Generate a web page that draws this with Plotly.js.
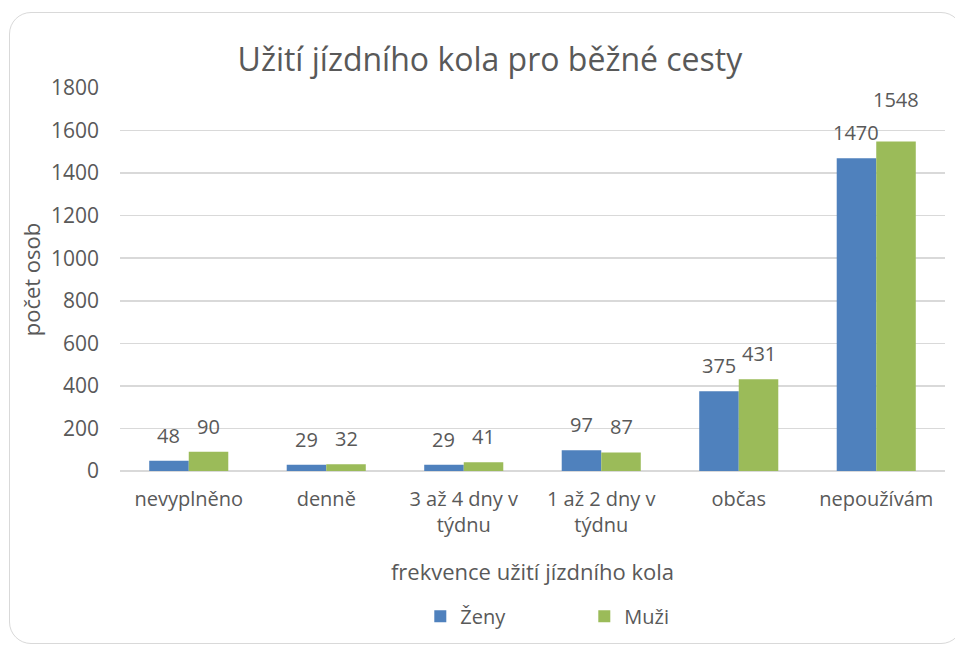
<!DOCTYPE html>
<html>
<head>
<meta charset="utf-8">
<script src="https://cdn.plot.ly/plotly-3.0.1.min.js"></script>
<style>
  body { margin: 0; background: #fff; }
  #frame {
    position: absolute; left: 9px; top: 12px; width: 952px; height: 630px;
    border: 1.5px solid #d9d9d9; border-radius: 22px;
  }
  #chart { position: absolute; left: 0; top: 0; width: 955px; height: 646px; }
</style>
</head>
<body>
<div id="frame"></div>
<div id="chart"></div>
<script>
const categories = ['nevyplněno', 'denně', '3 až 4 dny v<br>týdnu', '1 až 2 dny v<br>týdnu', 'občas', 'nepoužívám'];
const zeny = [48, 29, 29, 97, 375, 1470];
const muzi = [90, 32, 41, 87, 431, 1548];
const yTicks = [0, 200, 400, 600, 800, 1000, 1200, 1400, 1600, 1800];

const textColor = '#595959';
const font = 'Open Sans, sans-serif';

const data = [
  { type: 'bar', name: 'Ženy', x: categories, y: zeny, marker: { color: '#4f81bd' } },
  { type: 'bar', name: 'Muži', x: categories, y: muzi, marker: { color: '#9bbb59' } }
];

// value labels sitting above each bar; the last pair is crowded so the right one is lifted
const annotations = [];
[[zeny, -20, 0], [muzi, 20, 1]].forEach(([vals, dx, s]) => {
  vals.forEach((v, i) => {
    const crowded = s === 1 && i === vals.length - 1;
    annotations.push({
      x: categories[i], y: v, xref: 'x', yref: 'y',
      text: String(v), showarrow: false,
      xshift: dx, yshift: crowded ? 27 : 10, yanchor: 'bottom',
      font: { family: font, size: 20, color: textColor }
    });
  });
});

const layout = {
  width: 955, height: 646,
  margin: { l: 120, r: 10, t: 88, b: 175 },
  paper_bgcolor: 'rgba(0,0,0,0)',
  plot_bgcolor: 'rgba(0,0,0,0)',
  font: { family: font, color: textColor },
  title: {
    text: 'Užití jízdního kola pro běžné cesty',
    font: { family: font, size: 32, color: textColor },
    x: 0.513, xref: 'container', xanchor: 'center',
    y: 0.907, yref: 'container', yanchor: 'middle'
  },
  barmode: 'group',
  bargap: 0.425,
  bargroupgap: 0,
  xaxis: {
    type: 'category',
    tickfont: { size: 20, color: textColor },
    ticklabelstandoff: 14,
    showline: false,
    title: { text: 'frekvence užití jízdního kola', font: { size: 22, color: textColor }, standoff: 27 }
  },
  yaxis: {
    range: [0, 1800],
    tickvals: yTicks,
    tickfont: { size: 21, color: textColor },
    ticklabelstandoff: 20,
    gridcolor: '#d9d9d9', gridwidth: 1.5,
    zeroline: true, zerolinecolor: '#d9d9d9', zerolinewidth: 1.5,
    title: { text: 'počet osob', font: { size: 22, color: textColor }, standoff: 4 }
  },
  legend: {
    orientation: 'h', x: 0.364, xanchor: 'left', y: -0.379, yanchor: 'middle',
    font: { size: 20, color: textColor },
    entrywidth: 119, entrywidthmode: 'pixels',
    itemwidth: 30, tracegroupgap: 0
  },
  annotations: annotations
};

Plotly.newPlot('chart', data, layout, { displayModeBar: false, staticPlot: true });
</script>
</body>
</html>
